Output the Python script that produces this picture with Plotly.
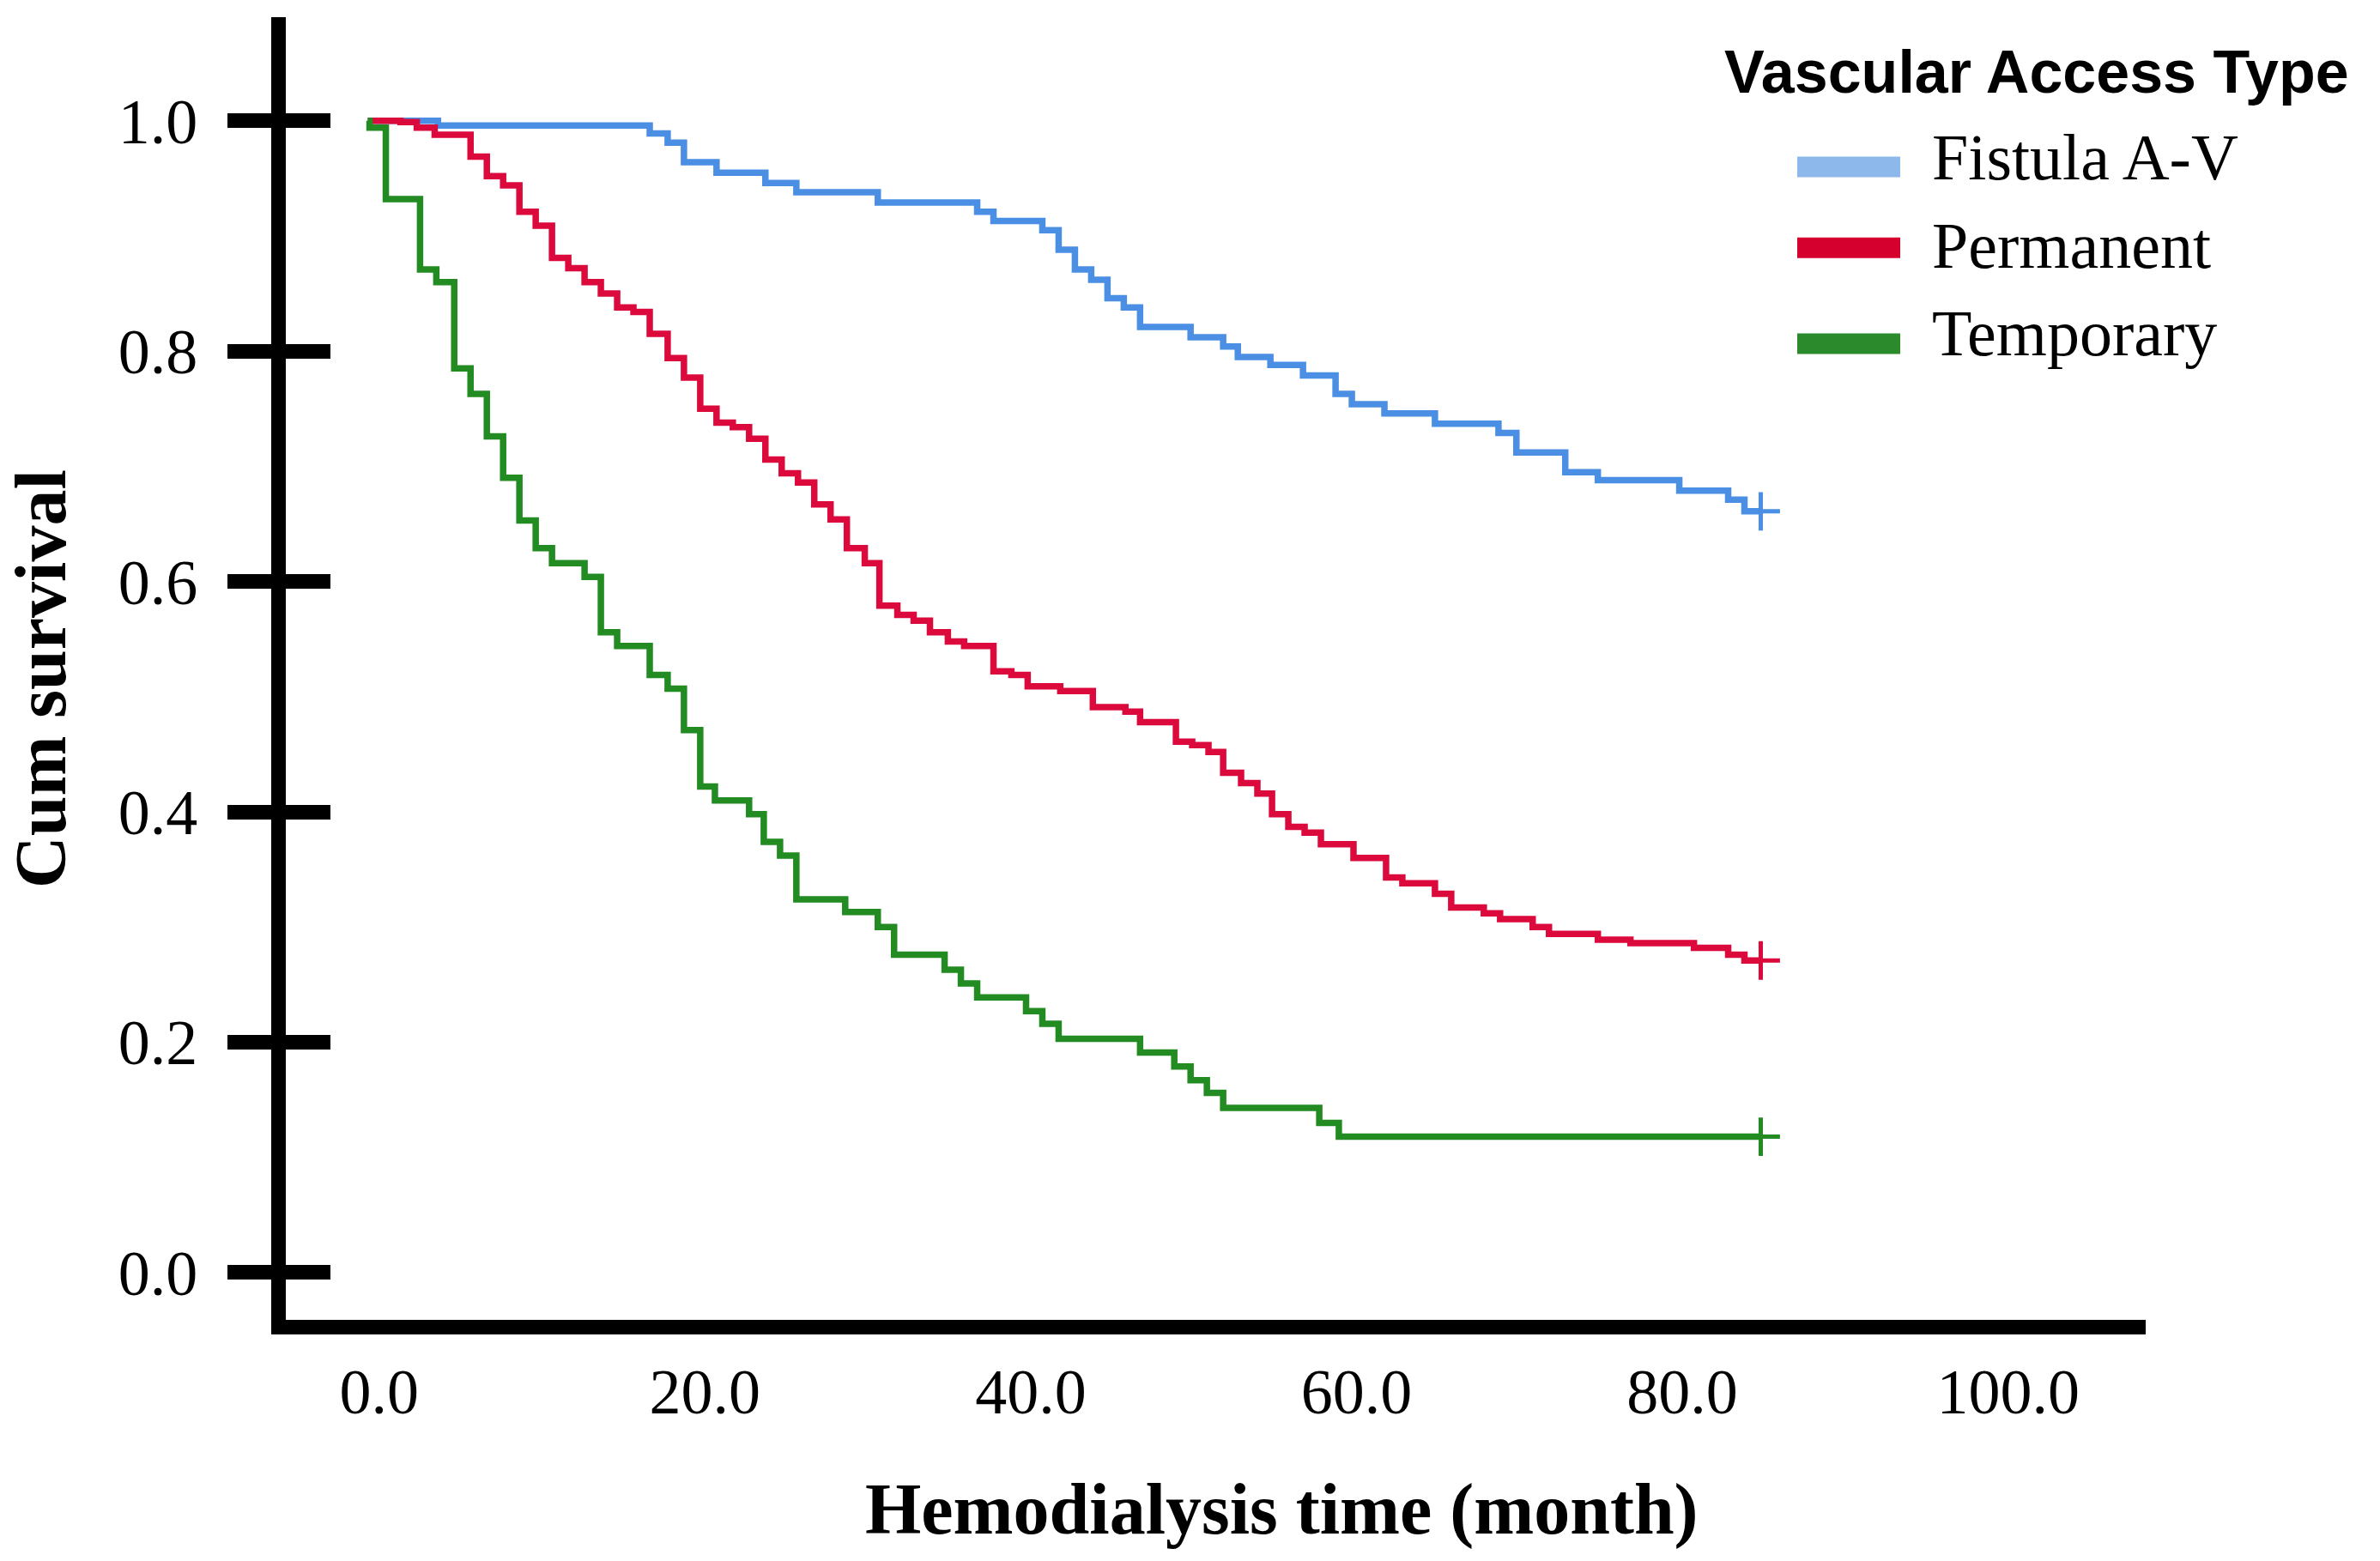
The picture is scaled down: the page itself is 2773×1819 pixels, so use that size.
import plotly.graph_objects as go

# ---------------- data ----------------
groups = ["Fistula A-V", "Permanent", "Temporary"]

fistula_t = [0, 4.3, 17.3, 18.4, 19.4, 21.4, 24.4, 26.3, 31.3, 37.4, 38.4, 41.4, 42.4, 43.4,
             44.4, 45.4, 46.4, 47.4, 50.5, 52.5, 53.4, 55.4, 57.4, 59.4, 60.4, 62.4, 65.5,
             69.4, 70.5, 73.5, 75.5, 80.5, 83.5, 84.5, 85.5]
fistula_s = [1.0, 0.996, 0.989, 0.981, 0.964, 0.955, 0.946, 0.938, 0.929, 0.921, 0.913, 0.905,
             0.888, 0.871, 0.862, 0.846, 0.838, 0.821, 0.812, 0.804, 0.795, 0.788, 0.779, 0.763,
             0.754, 0.746, 0.737, 0.729, 0.712, 0.695, 0.688, 0.679, 0.671, 0.661, 0.661]

permanent_t = [0, 2.0, 3.0, 4.1, 6.3, 7.3, 8.3, 9.3, 10.3, 11.3, 12.3, 13.3, 14.3, 15.3, 16.3,
               17.3, 18.4, 19.4, 20.4, 21.4, 22.4, 23.4, 24.4, 25.4, 26.4, 27.4, 28.4, 29.4,
               30.5, 31.4, 32.5, 33.5, 34.5, 35.6, 36.6, 38.4, 39.5, 40.5, 42.5, 44.5, 46.5,
               47.4, 49.6, 50.6, 51.6, 52.5, 53.6, 54.6, 55.5, 56.5, 57.5, 58.5, 60.5, 62.5,
               63.5, 65.5, 66.5, 68.5, 69.5, 71.5, 72.5, 75.5, 77.5, 81.4, 83.5, 84.5, 85.5]
permanent_s = [1.0, 0.999, 0.994, 0.988, 0.969, 0.952, 0.944, 0.921, 0.909, 0.881, 0.872, 0.860,
               0.850, 0.838, 0.834, 0.815, 0.794, 0.777, 0.750, 0.738, 0.734, 0.724, 0.706,
               0.694, 0.686, 0.667, 0.654, 0.629, 0.616, 0.579, 0.571, 0.566, 0.556, 0.548,
               0.544, 0.522, 0.519, 0.509, 0.505, 0.491, 0.487, 0.478, 0.461, 0.458, 0.452,
               0.434, 0.425, 0.416, 0.398, 0.387, 0.382, 0.372, 0.360, 0.343, 0.338, 0.329,
               0.317, 0.312, 0.307, 0.300, 0.294, 0.289, 0.286, 0.282, 0.276, 0.271, 0.271]

temporary_t = [0, 0.1, 1.1, 3.2, 4.2, 5.3, 6.3, 7.3, 8.3, 9.3, 10.3, 11.3, 13.3, 14.3, 15.3,
               17.3, 18.4, 19.4, 20.4, 21.3, 23.4, 24.3, 25.3, 26.3, 29.3, 31.3, 32.3, 35.4,
               36.4, 37.4, 40.4, 41.4, 42.4, 47.4, 49.5, 50.5, 51.5, 52.5, 58.4, 59.6, 85.5]
temporary_s = [1.0, 0.994, 0.932, 0.871, 0.860, 0.785, 0.763, 0.726, 0.690, 0.653, 0.629, 0.616,
               0.604, 0.556, 0.544, 0.519, 0.507, 0.471, 0.422, 0.410, 0.398, 0.374, 0.362,
               0.324, 0.313, 0.300, 0.276, 0.263, 0.251, 0.239, 0.227, 0.216, 0.203, 0.191,
               0.179, 0.167, 0.156, 0.143, 0.130, 0.118, 0.118]

x_ticks = [0, 20, 40, 60, 80, 100]
y_ticks = [0.0, 0.2, 0.4, 0.6, 0.8, 1.0]

line_colors = ["#4A8FE3", "#DC0A3C", "#228B22"]
swatch_colors = ["#8DB8EC", "#D6002F", "#2B8A2B"]

series = [(fistula_t, fistula_s), (permanent_t, permanent_s), (temporary_t, temporary_s)]

# ---------------- layout geometry (pixels) ----------------
FIG_W, FIG_H = 2773, 1819
L, R, T, B = 333, 2500, 20, 1538
PW, PH = R - L, B - T
XRANGE = [-5.04, 109.13]
YRANGE = [-0.041, 1.090]


def px(X):
    return (X - L) / PW


def py(Y):
    return (B - Y) / PH


SERIF = "Liberation Serif, Times New Roman, serif"
SANS = "Liberation Sans, Arial, sans-serif"

fig = go.Figure()
for name, (t, s), c in zip(groups, series, line_colors):
    fig.add_trace(go.Scatter(
        x=t, y=s, mode="lines", name=name, line=dict(color=c, width=7.5, shape="hv"),
        showlegend=False, hoverinfo="skip"))
    # censor mark at the end of each curve
    fig.add_trace(go.Scatter(
        x=[t[-1]], y=[s[-1]], mode="markers", yaxis="y2", showlegend=False, hoverinfo="skip",
        marker=dict(symbol="cross-thin", size=32, line=dict(color=c, width=5))))

fig.update_layout(
    width=FIG_W, height=FIG_H,
    margin=dict(l=L, r=FIG_W - R, t=T, b=FIG_H - B, pad=0),
    paper_bgcolor="white", plot_bgcolor="white",
    xaxis=dict(range=XRANGE, tickvals=x_ticks, tickformat=".1f", ticks="",
               showline=True, linewidth=17, linecolor="black", showgrid=False, zeroline=False,
               tickfont=dict(family=SERIF, size=74, color="black"),
               ticklabelstandoff=3, ticklabelshift=13),
    yaxis=dict(range=YRANGE, tickvals=y_ticks, tickformat=".1f", ticks="outside",
               ticklen=51, tickwidth=17, tickcolor="black",
               showline=True, linewidth=17, linecolor="black", showgrid=False, zeroline=False,
               tickfont=dict(family=SERIF, size=74, color="black"), ticklabelstandoff=20),
    yaxis2=dict(range=YRANGE, tickvals=y_ticks, overlaying="y", anchor="x", side="left",
                ticks="inside", ticklen=52, tickwidth=17, tickcolor="black",
                showticklabels=False, showline=False, showgrid=False, zeroline=False),
    showlegend=False,
)

annotations = [
    dict(text="<b>Hemodialysis time (month)</b>", x=px(1493), y=py(1759), xref="paper",
         yref="paper", xanchor="center", yanchor="middle", showarrow=False,
         font=dict(family=SERIF, size=84, color="black")),
    dict(text="<b>Cum survival</b>", x=px(48), y=py(791), xref="paper", yref="paper",
         xanchor="center", yanchor="middle", textangle=-90, showarrow=False,
         font=dict(family=SERIF, size=84, color="black")),
    dict(text="<b>Vascular Access Type</b>", x=px(2007), y=py(84), xref="paper", yref="paper",
         xanchor="left", yanchor="middle", showarrow=False,
         font=dict(family=SANS, size=70, color="black")),
]
legend_text_y = [183, 286, 388]
swatch_y = [194.6, 288.7, 400.5]
for name, ty, sy, c in zip(groups, legend_text_y, swatch_y, swatch_colors):
    annotations.append(dict(text=name, x=px(2249), y=py(ty), xref="paper", yref="paper",
                            xanchor="left", yanchor="middle", showarrow=False,
                            font=dict(family=SERIF, size=76, color="black")))
    fig.add_shape(type="rect", xref="paper", yref="paper", x0=px(2094), x1=px(2214),
                  y0=py(sy - 12), y1=py(sy + 12), fillcolor=c, line=dict(width=0))
fig.update_layout(annotations=annotations)

fig.write_html("out.html", config={"displayModeBar": False},
               post_script="document.body.style.margin='0';document.body.style.overflow='hidden';")
